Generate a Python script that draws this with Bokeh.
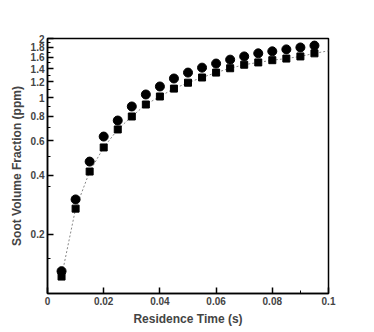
from bokeh.plotting import figure
from bokeh.models import FixedTicker
from bokeh.embed import file_html
from bokeh.resources import INLINE

x_pts = [0.005, 0.01, 0.015, 0.02, 0.025, 0.03, 0.035, 0.04, 0.045, 0.05,
         0.055, 0.06, 0.065, 0.07, 0.075, 0.08, 0.085, 0.09, 0.095]
circles = [0.13, 0.302, 0.471, 0.632, 0.763, 0.90, 1.036, 1.138, 1.25, 1.34,
           1.42, 1.49, 1.56, 1.62, 1.68, 1.72, 1.76, 1.80, 1.84]
squares = [0.122, 0.271, 0.419, 0.556, 0.687, 0.80, 0.921, 1.012, 1.11, 1.19,
           1.265, 1.34, 1.41, 1.47, 1.51, 1.55, 1.58, 1.62, 1.68]
line_x = x_pts + [0.1]
line_y = squares + [1.73]

y_major = [0.2, 0.4, 0.6, 0.8, 1, 1.2, 1.4, 1.6, 1.8, 2]
y_labels = ["0.2", "0.4", "0.6", "0.8", "1", "1.2", "1.4", "1.6", "1.8", "2"]
y_minor = [0.15, 0.35, 0.5, 0.7, 0.9, 1.1, 1.3, 1.5, 1.7, 1.9]
x_major = [0, 0.02, 0.04, 0.06, 0.08, 0.1]
x_labels = ["0", "0.02", "0.04", "0.06", "0.08", "0.1"]
x_minor = [0.09]

FONT = "Liberation Sans"

p = figure(frame_width=281, frame_height=255, output_backend="svg", toolbar_location=None,
           y_axis_type="log", x_range=(0, 0.1), y_range=(0.1, 2),
           min_border_left=47, min_border_right=38, min_border_top=38,
           min_border_bottom=31)
p.xgrid.visible = False
p.ygrid.visible = False
p.outline_line_color = "black"
p.outline_line_width = 1.5
p.background_fill_color = "white"
p.border_fill_color = "white"

p.line(line_x, line_y, line_color="#888888", line_width=1, line_dash="2 2")
p.scatter(x_pts, squares, marker="square", size=7, color="black")
p.scatter(x_pts, circles, marker="circle", size=9, color="black")

xa = p.xaxis[0]
xa.ticker = FixedTicker(ticks=x_major, minor_ticks=x_minor)
xa.major_label_overrides = {v: s for v, s in zip(x_major, x_labels)}
xa.axis_label = "Residence Time (s)"
ya = p.yaxis[0]
ya.ticker = FixedTicker(ticks=y_major, minor_ticks=y_minor)
ya.major_label_overrides = {v: s for v, s in zip(y_major, y_labels)}
ya.axis_label = "Soot Volume Fraction (ppm)"

for ax in (xa, ya):
    ax.axis_line_width = 1.5
    ax.major_tick_in = 6
    ax.major_tick_out = 0
    ax.minor_tick_in = 3
    ax.minor_tick_out = 0
    ax.major_tick_line_width = 1.5
    ax.major_label_text_font = FONT
    ax.major_label_text_font_style = "bold"
    ax.major_label_text_font_size = "10px"
    ax.axis_label_text_font = FONT
    ax.axis_label_text_font_style = "bold"
    ax.axis_label_text_font_size = "12px"
    ax.major_label_standoff = 3
    ax.axis_label_standoff = 4

open("out.html", "w").write(file_html(p, INLINE))
